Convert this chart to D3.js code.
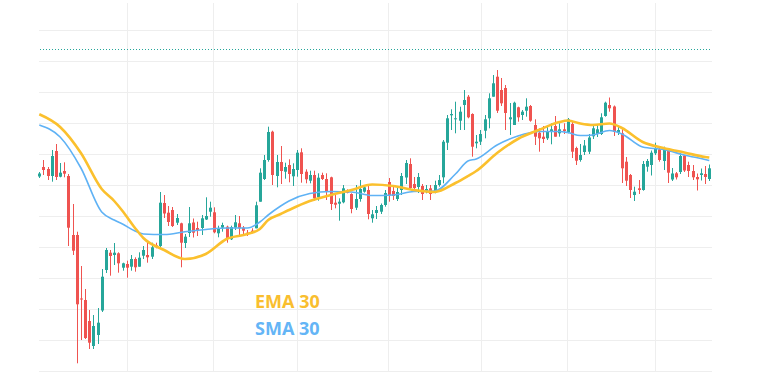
<!DOCTYPE html>
<html><head><meta charset="utf-8">
<script src="https://cdn.jsdelivr.net/npm/d3@7"></script>
<style>html,body{margin:0;padding:0;background:#fff;overflow:hidden}</style>
</head><body><svg id="chart" width="768" height="372"></svg>
<script>
// ---- data (prices) ----
const opens = [22.35,23.3,23.1,22.4,24.9,22.33,22.9,22.4,16.5,16.5,10.15,10.0,7.9,5.4,6.5,8.95,13.0,14.73,14.5,14.67,
13.23,13.6,13.33,14.1,13.33,14.43,14.5,14.33,15.47,15.4,19.7,18.73,19.0,17.73,17.67,15.7,16.7,17.75,17.2,17.2,
18.05,18.83,18.77,16.67,17.23,17.33,16.07,17.23,17.67,17.23,16.73,16.93,17.17,19.83,22.1,24.0,26.83,22.4,23.8,22.83,
23.5,22.37,23.0,24.77,22.83,21.93,22.5,20.27,22.5,22.1,22.27,19.73,19.63,19.77,21.0,20.6,19.23,20.1,20.83,21.0,
18.17,18.7,18.83,19.5,21.8,20.9,20.1,21.0,22.25,23.6,21.6,21.3,21.4,20.93,21.17,20.73,21.5,22.27,25.73,28.47,
28.07,27.93,29.5,30.33,28.6,25.67,25.83,26.93,28.17,30.33,32.33,31.0,31.2,28.07,27.5,29.27,28.5,28.93,29.4,27.5,
26.73,26.33,26.17,26.9,27.4,26.67,27.07,26.77,27.6,25.2,24.0,24.8,24.83,26.37,26.6,26.6,28.4,29.5,29.35,26.73,
26.67,23.83,22.5,20.5,21.17,21.0,23.33,23.5,24.67,25.07,23.9,25.07,22.05,22.67,22.8,24.45,23.5,22.9,22.3,22.5,
22.6,22.1];
const highs = [22.8,24.0,23.3,25.0,25.6,23.7,23.77,22.6,19.6,16.83,13.4,11.1,9.0,8.5,9.2,13.1,15.2,15.0,15.7,14.77,
13.73,13.93,14.5,14.27,14.77,15.4,15.93,15.73,15.73,20.8,20.5,19.4,19.3,18.6,17.73,16.6,19.3,18.15,17.83,18.5,
20.27,19.83,19.27,17.43,17.73,17.43,17.43,18.5,18.4,17.4,17.0,17.17,19.83,23.17,24.5,27.33,26.93,24.5,25.4,23.73,
24.07,23.67,25.0,25.17,23.07,22.93,22.93,22.67,22.73,22.67,22.33,20.67,20.17,21.5,21.07,20.67,21.5,22.0,21.5,21.4,
19.0,19.4,19.65,21.0,22.2,21.4,21.33,22.7,24.0,24.17,22.3,22.7,21.6,21.5,21.5,21.93,22.5,26.0,28.5,29.07,
29.83,29.33,31.0,30.5,28.67,26.5,27.0,28.5,30.67,32.5,33.0,32.2,31.5,29.7,29.83,29.33,29.0,30.17,29.5,28.07,
27.17,27.4,27.33,27.67,28.4,27.67,27.67,28.2,27.83,25.33,25.6,26.0,26.6,27.6,27.5,28.67,29.83,30.25,29.45,27.5,
27.3,24.3,22.6,21.33,22.0,23.9,24.1,24.95,25.73,25.25,25.33,25.17,23.2,22.8,24.7,24.5,23.83,23.5,22.65,23.15,
23.4,23.55];
const lows = [22.2,22.5,22.0,21.83,22.0,22.27,22.27,15.4,14.5,3.67,6.0,6.1,5.1,5.1,5.6,8.8,12.7,12.43,13.5,12.73,
12.93,12.23,12.93,12.83,13.33,14.1,13.73,14.1,15.17,15.3,18.2,17.4,17.3,17.5,13.27,15.2,16.3,16.25,16.4,16.5,
18.0,18.33,16.67,16.27,16.83,15.73,16.0,17.0,16.33,16.5,16.4,16.67,17.17,19.83,22.0,23.83,21.5,21.27,21.6,22.13,
21.77,21.4,22.33,21.73,21.67,21.67,19.93,19.93,22.0,20.0,19.0,19.17,17.93,19.67,20.67,18.67,19.0,19.83,20.73,18.07,
17.73,18.1,18.6,19.33,19.83,20.0,19.9,20.5,21.6,21.0,20.9,20.7,20.0,20.67,20.0,20.67,21.33,21.67,25.0,27.0,
26.67,27.0,27.0,28.17,24.33,25.17,25.5,26.17,27.17,30.33,28.7,29.4,27.0,26.5,27.5,27.83,28.0,28.33,27.83,25.5,
24.83,25.7,26.0,25.57,26.33,26.33,26.6,26.67,24.2,23.5,23.83,24.5,24.6,26.1,26.3,26.5,28.33,28.83,26.4,26.5,
21.7,21.4,20.2,19.9,20.6,20.93,22.83,22.45,24.5,23.83,23.0,21.7,21.9,22.05,22.6,22.8,22.3,22.0,20.95,21.95,
21.6,21.9];
const closes = [22.65,23.0,22.4,24.4,22.3,22.73,22.63,17.23,14.93,9.57,10.05,6.2,5.73,7.4,7.73,12.33,15.0,14.4,14.73,13.67,
13.67,13.23,14.1,13.27,14.23,15.0,14.27,15.27,15.27,19.73,18.65,17.8,17.4,18.2,15.73,16.33,17.67,16.73,16.9,18.17,
18.4,19.23,16.77,17.17,17.5,16.17,17.3,17.77,17.17,16.93,16.57,16.77,19.47,22.73,24.0,26.8,22.5,23.8,22.9,23.3,
22.6,23.1,24.73,22.6,22.07,22.5,20.17,22.23,22.1,20.83,19.6,19.53,19.83,21.17,20.73,19.1,20.1,21.1,21.27,18.6,
18.57,19.0,19.5,20.7,20.5,20.4,20.8,22.4,23.7,21.2,21.2,22.3,20.6,21.1,20.6,21.5,22.0,25.83,28.17,28.6,
28.17,28.83,30.0,28.27,25.33,25.83,26.6,28.07,30.17,31.67,28.93,29.67,28.7,28.27,29.73,28.27,28.83,29.33,27.93,26.33,
26.17,26.1,26.83,27.07,26.33,27.07,26.9,28.07,24.83,23.93,24.5,25.45,26.25,27.17,27.07,28.27,29.73,29.17,26.8,27.0,
23.17,21.93,21.0,20.83,21.0,23.6,23.9,24.73,25.1,24.0,25.1,22.73,22.65,22.27,24.4,22.95,22.9,22.27,22.07,22.67,
22.3,23.17];

// moving averages at these candle indices
const lineSampleIdx = [0,5,10,15,18,20,23,25,30,35,40,45,50,53,55,58,60,65,70,75,80,85,90,95,100,103,105,110,115,120,125,127,130,133,137,140,145,150,155,160,161];
const ema30 = [28.57,27.3,24.7,21.1,19.9,18.9,17.2,16.2,15.0,14.1,14.6,16.1,16.6,17.1,18.0,18.6,19.0,19.9,20.5,21.0,21.55,21.4,21.0,20.8,21.7,22.4,22.9,24.7,26.1,27.0,27.8,27.95,27.65,27.5,27.65,27.2,25.8,25.2,24.75,24.3,24.25];
const sma30 = [27.5,26.3,23.2,18.8,18.0,17.6,16.9,16.6,16.55,16.83,17.05,17.2,17.2,17.8,18.5,19.4,19.9,20.65,20.85,20.8,20.45,20.5,20.85,20.9,22.6,23.9,24.1,25.5,26.4,26.85,26.85,26.75,26.45,26.5,26.95,26.6,25.3,25.05,24.5,24.05,23.95];

const gridLevels = [37.0,33.9,30.8,27.7,24.6,21.5,18.4,15.3,12.2,9.1,6.0,2.9];
const monthStartIdx = [21.1,41.8,61.9,83.8,106.2,126.9,148.0];
const priceLineLevel = 35.07;
const legendLabels = ["EMA 30","SMA 30"];
const legendColors = ["#f9be2f","#64b5f6"];

// ---- drawing ----
const svg = d3.select("#chart");
const n = opens.length;
const plotLeft = 39, plotRight = 712, plotTop = 3, plotBottom = 372;
const x = d3.scaleLinear().domain([0, n - 1]).range([39.3, 709.3]);
const y = d3.scaleLinear().domain([0, 40]).range([400, 0]);

svg.append("defs").append("clipPath").attr("id","plot")
  .append("rect").attr("x",plotLeft-1).attr("y",0).attr("width",plotRight-plotLeft+1).attr("height",plotBottom);

const grid = svg.append("g");
grid.selectAll("line.h").data(gridLevels).join("line")
  .attr("x1",plotLeft).attr("x2",plotRight)
  .attr("y1",d=>Math.round(y(d))+0.5).attr("y2",d=>Math.round(y(d))+0.5)
  .attr("stroke","#eeeeee").attr("stroke-width",1);
grid.selectAll("line.v").data(monthStartIdx).join("line")
  .attr("x1",d=>Math.round(x(d))+0.5).attr("x2",d=>Math.round(x(d))+0.5)
  .attr("y1",plotTop).attr("y2",plotBottom)
  .attr("stroke","#eeeeee").attr("stroke-width",1);

svg.append("line")
  .attr("x1",40).attr("x2",710)
  .attr("y1",Math.round(y(priceLineLevel))+0.5).attr("y2",Math.round(y(priceLineLevel))+0.5)
  .attr("stroke","#26a69a").attr("stroke-width",1).attr("stroke-dasharray","1,2");

const plot = svg.append("g").attr("clip-path","url(#plot)");
const idx = d3.range(n);
const up = i => closes[i] >= opens[i];
const candles = plot.append("g");
candles.selectAll("line").data(idx).join("line")
  .attr("x1",i=>Math.round(x(i))+0.5).attr("x2",i=>Math.round(x(i))+0.5)
  .attr("y1",i=>y(highs[i])).attr("y2",i=>y(lows[i]))
  .attr("stroke",i=>up(i)?"#26a69a":"#ef5350").attr("stroke-width",1);
candles.selectAll("rect").data(idx).join("rect")
  .attr("x",i=>Math.round(x(i))-1).attr("width",3)
  .attr("y",i=>y(Math.max(opens[i],closes[i])))
  .attr("height",i=>Math.max(1, y(Math.min(opens[i],closes[i]))-y(Math.max(opens[i],closes[i]))))
  .attr("fill",i=>up(i)?"#26a69a":"#ef5350");

const lineGen = vals => d3.line()
  .x((d,k)=>x(lineSampleIdx[k])).y(d=>y(d))
  .curve(d3.curveMonotoneX)(vals);
plot.append("path").attr("d",lineGen(sma30)).attr("fill","none")
  .attr("stroke","#5fb2f5").attr("stroke-width",1.6);
plot.append("path").attr("d",lineGen(ema30)).attr("fill","none")
  .attr("stroke","#fbc02d").attr("stroke-width",2.6);

const legend = svg.append("g");
legend.selectAll("text").data(legendLabels).join("text")
  .attr("x",255).attr("y",(d,k)=>308+k*27)
  .attr("fill",(d,k)=>legendColors[k])
  .attr("font-family","'Open Sans', sans-serif").attr("font-weight",700).attr("font-size",18)
  .text(d=>d);
</script></body></html>
